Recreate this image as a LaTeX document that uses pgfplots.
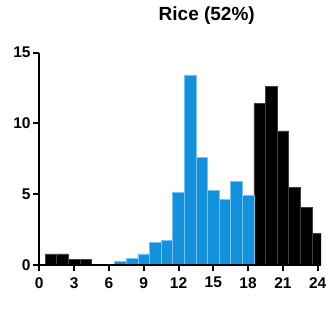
\documentclass[border=0pt]{standalone}
\usepackage{pgfplots}
\pgfplotsset{compat=1.18}
\usepackage{fontspec}
\setmainfont{Liberation Sans}
\definecolor{riceblue}{RGB}{20,145,220}
\definecolor{riceedge}{RGB}{120,195,240}
\begin{document}
\begin{tikzpicture}
\useasboundingbox (-39.3pt,-63pt) rectangle (289.7pt,265pt);
\begin{axis}[
  at={(0,0)}, anchor=south west,
  scale only axis, width=281.9pt, height=212.3pt,
  xmin=0, xmax=24.3, ymin=0, ymax=15,
  axis lines*=left,
  axis line style={line width=2.2pt},
  axis on top,
  xtick={0,3,...,24}, ytick={0,5,10,15},
  tick align=outside, major tick length=6.5pt,
  tick style={line width=2pt, black},
  /pgf/number format/assume math mode=true,
  ticklabel style={font=\bfseries\fontsize{15.5}{16}\selectfont},
  xticklabel style={inner sep=0pt, yshift=-5.5pt},
  yticklabel style={inner sep=0pt, xshift=-2pt},
  title={Rice (52\%)},
  title style={at={(axis description cs:0.594,1.1455)}, anchor=center, font=\bfseries\fontsize{19}{19}\selectfont},
  ybar, bar width=1, bar shift=0pt,
]
\addplot[fill=black, draw=black!75, line width=0.5pt] coordinates {
  (1,0.78) (2,0.78) (3,0.38) (4,0.38) (5,0.04) (6,0.04)
  (19,11.4) (20,12.64) (21,9.47) (22,5.46) (23,4.05) (24,2.24)
};
\addplot[fill=riceblue, draw=riceedge, line width=0.5pt] coordinates {
  (7,0.26) (8,0.47) (9,0.78) (10,1.6) (11,1.74) (12,5.13)
  (13,13.44) (14,7.6) (15,5.27) (16,4.64) (17,5.89) (18,4.94)
};
\end{axis}
\end{tikzpicture}
\end{document}
